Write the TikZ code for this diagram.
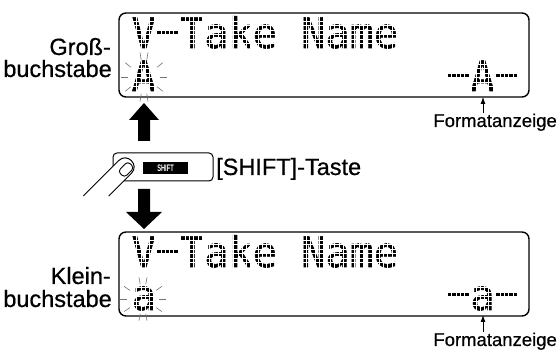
\documentclass[tikz,border=0pt]{standalone}
\usepackage{fontspec}
\setmainfont{Liberation Sans}
\newfontfamily\lblfont{Liberation Sans}[FakeBold=0.6]
\newfontfamily\lcdfont{DejaVu Sans Mono}[FakeStretch=0.958, FakeBold=1.5]
\usetikzlibrary{arrows.meta}
% display dash: the hyphen sits on the middle dot row of its cell
\newcommand\lcddash{\raisebox{4pt}{-}}
\tikzset{
  lcdbox/.style={draw, line width=1.4pt, rounded corners=7pt, minimum width=410pt, minimum height=84pt, inner sep=0pt},
  lcdtext/.style={font=\lcdfont\fontsize{42}{42}\selectfont, inner sep=0pt, anchor=base west},
  lbl/.style={font=\lblfont\fontsize{23.5}{23.5}\selectfont, inner sep=0pt},
  fmtlbl/.style={font=\lblfont\fontsize{18.5}{18.5}\selectfont, inner sep=0pt, anchor=base east},
  lcdgrid/.style={draw=white, line width=0.9pt},
  lcdink/.style={fill=black},
  sparkray/.style={draw=black!55, line width=0.6pt},
  fmtarrow/.style={-{Latex[length=7pt,width=5pt]}, line width=0.8pt},
  bigarrow/.style={fill=black},
}
\begin{document}
\begin{tikzpicture}[x=1pt,y=-1pt]
\useasboundingbox (0,0) rectangle (558,352);

% the two display windows
\node[lcdbox] (lcdA) at (324,55) {};
\node[lcdbox] (lcdB) at (324,274) {};

% display contents
\node[lcdtext] (lineA1) at (131.5,48) {V\lcddash Take Name};
\node[lcdtext] (curA) at (131.5,91) {A};
\node[lcdtext] (modeA) at (446,91) {\lcddash A\lcddash};
\node[lcdtext] (lineB1) at (131.5,267) {V\lcddash Take Name};
\node[lcdtext] (curB) at (131.5,310) {a};
\node[lcdtext] (modeB) at (446,310) {\lcddash a\lcddash};

% dashes light the full middle row of their cells
\foreach \c/\ry in {1/17, 13/60, 15/60, 1/236, 13/279, 15/279}
  \fill[lcdink] (132.5+\c*24.23,\ry+13.29) rectangle (132.5+\c*24.23+21.05,\ry+17.72);

% dot-matrix raster over the characters
\foreach \dy in {0,219} {
  \foreach \ry in {17,60} {
    \foreach \i in {1,...,6}
      \draw[lcdgrid] (127,\ry+\dy+\i*4.43) -- (523,\ry+\dy+\i*4.43);
  }
  \foreach \c in {0,...,15} {
    \foreach \j in {1,...,4}
      \draw[lcdgrid] (132.5+\c*24.23+\j*4.3,16+\dy) -- (132.5+\c*24.23+\j*4.3,94+\dy);
    \fill[white] (132.5+\c*24.23+21.05,16+\dy) rectangle (132.5+\c*24.23+24.68,94+\dy);
  }
}

% blinking cursor rays
\foreach \a in {0,35,80,100,145,180,215,260,280,325}
  \draw[sparkray, shift={(144,77)}] (\a:16 and 17) -- (\a:23 and 25);
\foreach \a in {0,35,80,100,145,180,215,260,280,325}
  \draw[sparkray, shift={(143,299)}] (\a:16 and 15) -- (\a:23 and 22);

% side captions
\node[lbl, anchor=base east] (capA1) at (111,55) {Groß-};
\node[lbl, anchor=base east] (capA2) at (112,77) {buchstabe};
\node[lbl, anchor=base east] (capB1) at (111,284) {Klein-};
\node[lbl, anchor=base east] (capB2) at (112,307) {buchstabe};

% format indicator callouts
\node[fmtlbl] (fmtA) at (557,127) {Formatanzeige};
\node[fmtlbl] (fmtB) at (557,346) {Formatanzeige};
\coordinate (tipA) at (483,97);
\coordinate (tipB) at (483,315);
\draw[fmtarrow] (fmtA.north -| tipA) -- (tipA);
\draw[fmtarrow] (fmtB.north -| tipB) -- (tipB);

% block arrows
\fill[bigarrow] (144,103) -- (159,120) -- (150,120) -- (150,141) -- (138,141) -- (138,120) -- (129,120) -- cycle;
\fill[bigarrow] (144,229) -- (162,212) -- (150,212) -- (150,189) -- (138,189) -- (138,212) -- (126,212) -- cycle;

% SHIFT key
\node[draw, line width=1pt, rounded corners=4pt, minimum width=100pt, minimum height=28pt, inner sep=0pt] (key) at (163,167) {};
\node[fill=black, text=white, minimum width=45pt, minimum height=12pt, inner sep=0pt,
      font=\bfseries\fontsize{9.5}{9.5}\selectfont] (keycap) at (165.5,168) {\scalebox{0.6}[1]{SHIFT}};
\node[lbl, anchor=base west] (keylbl) at (216,175) {[SHIFT]-Taste};

% finger pressing the key
\begin{scope}[shift={(125,167)}, rotate=45]
  \filldraw[fill=white, line width=1pt, line join=round]
    (-50,-9) -- (0,-9) .. controls (12,-9) and (12,9) .. (0,9) -- (-32,9);
  \draw[line width=0.9pt, rounded corners=3.5pt] (-8,-2) rectangle (6,7);
\end{scope}
\end{tikzpicture}
\end{document}
